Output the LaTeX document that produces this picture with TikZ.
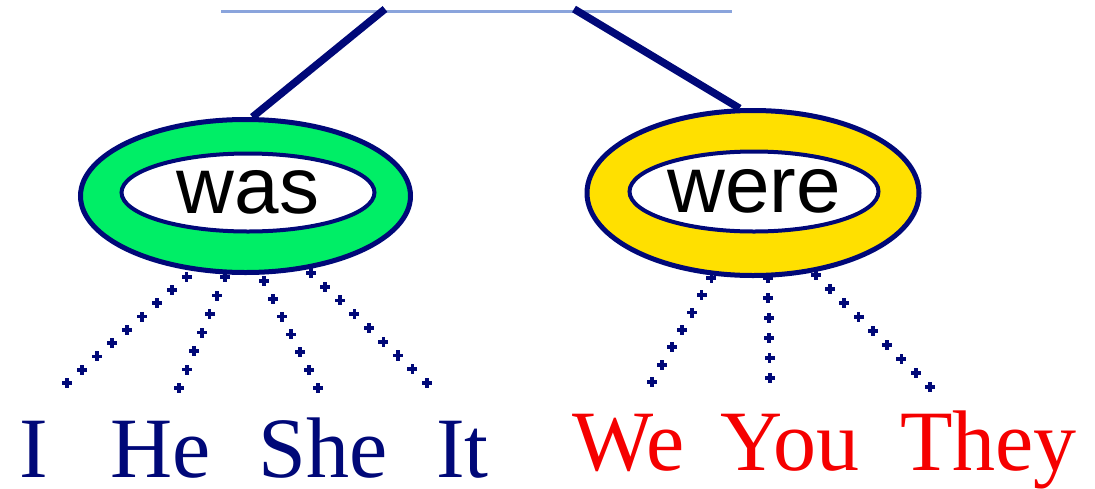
\documentclass[tikz,border=0pt]{standalone}
\usepackage{fontspec}
\setmainfont{Liberation Serif}
\newfontfamily\labfont{Liberation Sans}
\usetikzlibrary{shapes.geometric,decorations.markings}
\definecolor{navy}{RGB}{0,8,120}
\definecolor{ringgreen}{RGB}{0,238,102}
\definecolor{ringyellow}{RGB}{255,224,0}
\definecolor{topblue}{RGB}{138,164,220}
\definecolor{wordred}{RGB}{245,0,0}
\begin{document}
\begin{tikzpicture}[x=1pt,y=-1pt,
  ring/.style={ellipse, draw=navy, line width=5pt, inner sep=0pt},
  hole/.style={ellipse, draw=navy, line width=4pt, fill=white, inner sep=0pt, font=\labfont\fontsize{80}{80}\selectfont},
  branch/.style={navy, line width=7.5pt},
  bar/.style={topblue, line width=3pt},
  dotline/.style={decorate, decoration={markings, mark=between positions 0 and 1 step 20pt with {\pgftransformresetnontranslations \fill[navy] (-5pt,-1.9pt) rectangle (5pt,1.9pt); \fill[navy] (-1.9pt,-5pt) rectangle (1.9pt,5pt);}}},
  word/.style={anchor=base west, inner sep=0pt, font=\fontsize{86}{86}\selectfont},
]
\useasboundingbox (0,0) rectangle (1095,488);
% rings
\node[ring, fill=ringgreen, minimum width=330pt, minimum height=153pt] (wasring) at (245.5,196) {};
\node[hole, minimum width=253pt, minimum height=78pt] (was) at (248,192.5) {was};
\node[ring, fill=ringyellow, minimum width=332pt, minimum height=165pt] (werering) at (753,193) {};
\node[hole, minimum width=249pt, minimum height=80pt] (were) at (754,191.5) {were};
% top bar and branches
\coordinate (barL) at (221,11);
\coordinate (barR) at (732,11);
\coordinate (forkL) at (385,9);
\coordinate (forkR) at (574,9);
\draw[bar] (barL) -- (barR);
\draw[branch] (forkL) -- (wasring.85);
\draw[branch] (forkR) -- (werering.99);
% dotted connector ends
\coordinate (e1) at (67,383);
\coordinate (e2) at (179,388);
\coordinate (e3) at (318,388);
\coordinate (e4) at (427,383);
\coordinate (e5) at (652,382);
\coordinate (e6) at (770,378);
\coordinate (e7) at (930,387);
\path[dotline] (e1) -- (wasring.235);
\path[dotline] (e2) -- (wasring.256);
\path[dotline] (e3) -- (wasring.281);
\path[dotline] (e4) -- (wasring.310);
\path[dotline] (e5) -- (werering.244);
\path[dotline] (e6) -- (werering.280);
\path[dotline] (e7) -- (werering.307);
% words
\node[word, text=navy] (wI) at (19,477) {I};
\node[word, text=navy] (wHe) at (110,477) {He};
\node[word, text=navy] (wShe) at (258,477) {She};
\node[word, text=navy] (wIt) at (436,477) {It};
\node[word, text=wordred] (wWe) at (572,470) {We};
\node[word, text=wordred] (wYou) at (720,470) {You};
\node[word, text=wordred] (wThey) at (900,470) {They};
\end{tikzpicture}
\end{document}
